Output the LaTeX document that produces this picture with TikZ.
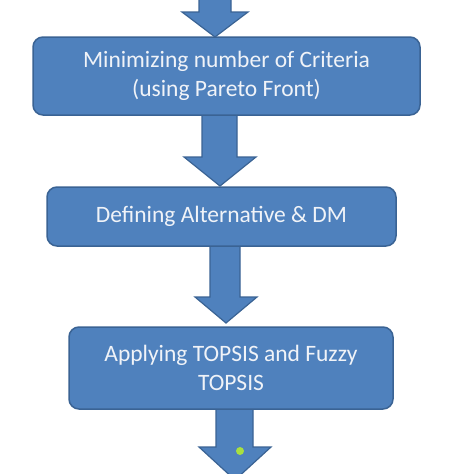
\documentclass[tikz,border=0pt]{standalone}
\usepackage{fontspec}
\setmainfont{Carlito}
\definecolor{boxfill}{HTML}{4F81BD}
\definecolor{boxline}{HTML}{3A6394}
\definecolor{boxtext}{HTML}{F0F3F8}
\definecolor{dotgreen}{HTML}{A8E040}
\begin{document}
\begin{tikzpicture}[x=1pt,y=-1pt,
  stepbox/.style={draw=boxline, line width=1.5pt, fill=boxfill, rounded corners=10pt,
    text=boxtext, font=\fontsize{23.5}{29}\selectfont, align=center, inner sep=0pt},
  blockarrow/.style={draw=boxline, line width=1.2pt, fill=boxfill, line join=miter}]
\useasboundingbox (0,0) rectangle (474,474);
% block arrows
\path[blockarrow] (199,-5) -- (231,-5) -- (231,12) -- (248,12) -- (215,37) -- (182,12) -- (199,12) -- cycle;
\path[blockarrow] (202,110) -- (237,110) -- (237,157) -- (256,157) -- (220,186) -- (184,157) -- (202,157) -- cycle;
\path[blockarrow] (210,240) -- (240,240) -- (240,297) -- (257,297) -- (226,323) -- (195,297) -- (210,297) -- cycle;
\path[blockarrow] (216,400) -- (253,400) -- (253,447) -- (271,447) -- (235,480) -- (199,447) -- (216,447) -- cycle;
% boxes
\node[stepbox, minimum width=387pt, minimum height=78pt] (b1) at (226.5,76)
  {Minimizing number of Criteria\\(using Pareto Front)};
\node[stepbox, minimum width=349pt, minimum height=59pt] (b2) at (221.5,216.5)
  {Defining Alternative \& DM};
\node[stepbox, minimum width=324pt, minimum height=82pt] (b3) at (231,368)
  {Applying TOPSIS and Fuzzy\\TOPSIS};
% green dot
\fill[dotgreen] (240,451) circle (4pt);
\end{tikzpicture}
\end{document}
